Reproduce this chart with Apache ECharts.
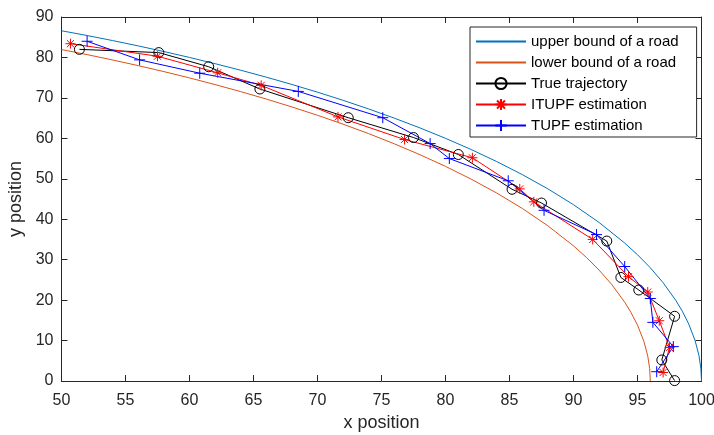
<!DOCTYPE html>
<html><head><meta charset="utf-8">
<script src="https://cdn.jsdelivr.net/npm/echarts@6/dist/echarts.min.js"></script>
<style>html,body{margin:0;padding:0;background:#fff}#c{width:714px;height:435px}</style>
</head><body><div id="c"></div>
<script>
const xTicks = [50, 55, 60, 65, 70, 75, 80, 85, 90, 95, 100];
const yTicks = [0, 10, 20, 30, 40, 50, 60, 70, 80, 90];
const seriesNames = ['upper bound of a road', 'lower bound of a road', 'True trajectory', 'ITUPF estimation', 'TUPF estimation'];

const upperX = [50, 52, 54, 56, 58, 60, 62, 64, 66, 68, 70, 72, 74, 76, 78, 80, 82, 84, 86, 88, 90, 92, 94, 95, 96, 97, 98, 98.5, 99, 99.5, 99.8, 99.95, 100];
const upperY = [86.60, 85.42, 84.17, 82.85, 81.46, 80.00, 78.46, 76.84, 75.13, 73.32, 71.41, 69.40, 67.26, 64.99, 62.58, 60.00, 57.24, 54.26, 51.03, 47.50, 43.59, 39.19, 34.12, 31.22, 28.00, 24.31, 19.90, 17.26, 14.11, 9.99, 6.32, 3.16, 0];

const lowerX = [50, 52, 54, 56, 58, 60, 62, 64, 66, 68, 70, 72, 74, 76, 78, 80, 82, 84, 86, 88, 90, 91, 92, 93, 94, 94.5, 95, 95.5, 95.8, 95.95, 96];
const lowerY = [81.95, 80.70, 79.37, 77.97, 76.50, 74.94, 73.29, 71.55, 69.71, 67.76, 65.70, 63.50, 61.16, 58.65, 55.96, 53.07, 49.92, 46.48, 42.66, 38.37, 33.41, 30.58, 27.42, 23.81, 19.49, 16.90, 13.82, 9.79, 6.19, 3.10, 0];

const trueX = [51.4, 57.6, 61.5, 65.5, 72.4, 77.5, 81.0, 85.2, 87.5, 92.6, 93.7, 95.1, 97.9, 96.9, 97.9];
const trueY = [82.0, 81.2, 77.7, 72.2, 65.1, 60.2, 56.0, 47.4, 44.0, 34.6, 25.6, 22.5, 16.0, 5.2, 0.1];

const itupfX = [50.7, 57.5, 62.2, 65.6, 71.6, 76.8, 82.1, 85.8, 86.9, 91.5, 94.3, 95.8, 96.7, 97.5, 97.0];
const itupfY = [83.4, 80.3, 76.2, 73.1, 65.3, 59.7, 55.2, 47.5, 44.3, 35.0, 25.8, 22.0, 14.9, 8.3, 2.1];

const tupfX = [52.0, 56.1, 60.8, 68.5, 75.1, 78.8, 80.3, 84.9, 87.7, 91.8, 94.0, 96.0, 96.2, 97.8, 96.5];
const tupfY = [84.0, 79.4, 76.1, 71.6, 65.1, 58.7, 55.0, 49.5, 42.2, 36.2, 28.3, 20.4, 14.5, 8.5, 2.3];

function zip(a, b) { return a.map((v, i) => [v, b[i]]); }

const FONT = '"Liberation Sans", Arial, Helvetica, sans-serif';
const AX = '#262626';
const circlePath = 'path://M10,5A5,5,0,1,1,0,5A5,5,0,1,1,10,5Z';
const starPath = 'path://M0,5L10,5M5,0L5,10M1.46,1.46L8.54,8.54M8.54,1.46L1.46,8.54';
const plusPath = 'path://M0,5L10,5M5,0L5,10';

function axisCommon(ticks, pos, showLabel) {
  return {
    type: 'value', position: pos,
    min: ticks[0], max: ticks[ticks.length - 1], interval: ticks[1] - ticks[0],
    axisLine: { show: true, onZero: false, lineStyle: { color: AX, width: 1 } },
    axisTick: { show: true, inside: true, length: 6, lineStyle: { color: AX, width: 1 } },
    axisLabel: { show: showLabel, color: AX, fontSize: 16, fontFamily: FONT },
    splitLine: { show: false }
  };
}

const xBottom = Object.assign(axisCommon(xTicks, 'bottom', true), {
  name: 'x position', nameLocation: 'middle', nameGap: 33,
  nameTextStyle: { color: AX, fontSize: 18, fontFamily: FONT }
});
xBottom.axisLabel.margin = 12;
const xTop = axisCommon(xTicks, 'top', false);
const yLeft = Object.assign(axisCommon(yTicks, 'left', true), {
  name: 'y position', nameLocation: 'middle', nameGap: 25, nameRotate: 90,
  nameTextStyle: { color: AX, fontSize: 18, fontFamily: FONT }
});
yLeft.axisLabel.margin = 8;
const yRight = axisCommon(yTicks, 'right', false);

function markSeries(name, xs, ys, color, symbol, size) {
  return {
    name: name, type: 'line', xAxisIndex: 0, yAxisIndex: 0,
    data: zip(xs, ys), symbol: symbol, symbolSize: size, showSymbol: true,
    lineStyle: { color: color, width: 1 },
    itemStyle: { color: 'rgba(0,0,0,0)', borderColor: color, borderWidth: 1 },
    emphasis: { disabled: true }
  };
}

const legendData = seriesNames.map((n, i) => i < 2
  ? { name: n, itemStyle: { color: 'rgba(0,0,0,0)', borderWidth: 0, opacity: 0 } }
  : { name: n });

const option = {
  animation: false,
  backgroundColor: '#fff',
  grid: { left: 61.5, right: 12.5, top: 17, bottom: 54, containLabel: false, outerBoundsMode: 'none' },
  xAxis: [xBottom, xTop],
  yAxis: [yLeft, yRight],
  legend: {
    orient: 'vertical', left: 470, top: 27,
    itemWidth: 50, itemHeight: 14, itemGap: 6.0,
    padding: [7, 18, 4, 5],
    backgroundColor: '#fff', borderColor: AX, borderWidth: 1,
    textStyle: { fontSize: 15, color: '#000', fontFamily: FONT },
    data: legendData
  },
  series: [
    { name: seriesNames[0], type: 'line', data: zip(upperX, upperY), symbol: 'none', smooth: false,
      lineStyle: { color: '#0072BD', width: 1 }, itemStyle: { color: '#0072BD' }, emphasis: { disabled: true } },
    { name: seriesNames[1], type: 'line', data: zip(lowerX, lowerY), symbol: 'none', smooth: false,
      lineStyle: { color: '#D95319', width: 1 }, itemStyle: { color: '#D95319' }, emphasis: { disabled: true } },
    markSeries(seriesNames[2], trueX, trueY, '#000000', circlePath, 10),
    markSeries(seriesNames[3], itupfX, itupfY, '#FF0000', starPath, 10),
    markSeries(seriesNames[4], tupfX, tupfY, '#0000FF', plusPath, 11)
  ]
};

const chart = echarts.init(document.getElementById('c'), null, { renderer: 'canvas' });
chart.setOption(option);
</script>
</body></html>
